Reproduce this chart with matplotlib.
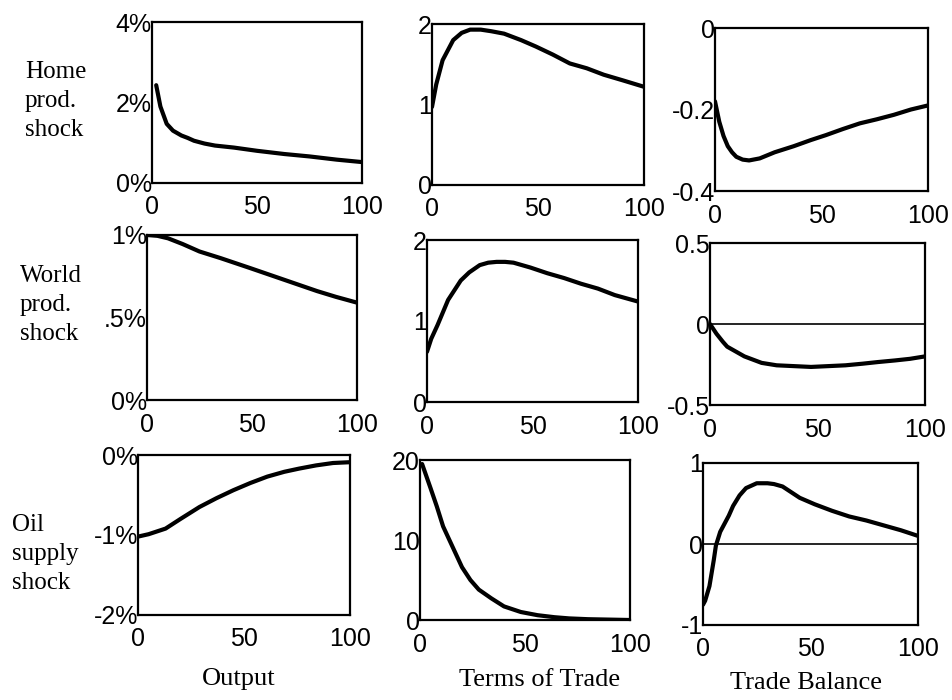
import matplotlib
matplotlib.use("Agg")
import matplotlib.pyplot as plt

# impulse responses, horizon 0..100
home_out_x = [2, 4, 7, 10, 14, 17, 20, 25, 30, 39, 50, 63, 75, 88, 100]
home_out_y = [2.43, 1.9, 1.47, 1.3, 1.18, 1.12, 1.05, 0.98, 0.93, 0.88, 0.8, 0.72, 0.66, 0.58, 0.52]

home_tot_x = [0, 2, 5, 10, 14, 18, 23, 28, 34, 42, 49, 57, 65, 73, 81, 90, 100]
home_tot_y = [0.97, 1.25, 1.55, 1.8, 1.89, 1.93, 1.93, 1.91, 1.88, 1.8, 1.72, 1.62, 1.51, 1.45, 1.37, 1.3, 1.22]

home_tb_x = [0, 2, 4, 6, 8, 10, 13, 16, 21, 28, 37, 45, 52, 60, 68, 76, 84, 92, 100]
home_tb_y = [-0.18, -0.23, -0.265, -0.29, -0.305, -0.316, -0.323, -0.325, -0.32, -0.305, -0.29, -0.275, -0.263, -0.248, -0.234, -0.224, -0.213, -0.2, -0.19]

world_out_x = [0, 5, 10, 17, 25, 35, 49, 57, 65, 73, 81, 90, 100]
world_out_y = [1.0, 0.995, 0.98, 0.945, 0.9, 0.86, 0.8, 0.765, 0.73, 0.695, 0.66, 0.625, 0.59]

world_tot_x = [0, 2, 5, 10, 16, 20, 25, 29, 33, 37, 41, 49, 57, 65, 73, 81, 89, 100]
world_tot_y = [0.62, 0.78, 0.95, 1.26, 1.5, 1.6, 1.69, 1.72, 1.73, 1.73, 1.72, 1.66, 1.59, 1.53, 1.46, 1.4, 1.32, 1.24]

world_tb_x = [0, 3, 6, 8, 12, 16, 20, 24, 31, 39, 47, 55, 63, 71, 78, 86, 93, 100]
world_tb_y = [0.0, -0.06, -0.11, -0.14, -0.17, -0.2, -0.22, -0.24, -0.255, -0.26, -0.265, -0.26, -0.255, -0.245, -0.235, -0.225, -0.215, -0.2]

oil_out_x = [0, 5, 13, 20, 29, 37, 45, 53, 61, 69, 76, 84, 92, 100]
oil_out_y = [-1.02, -0.99, -0.92, -0.8, -0.65, -0.54, -0.44, -0.35, -0.27, -0.21, -0.17, -0.13, -0.1, -0.09]

oil_tot_x = [1, 3, 5, 8, 11, 14, 17, 20, 24, 28, 34, 40, 48, 56, 64, 71, 80, 90, 100]
oil_tot_y = [19.5, 18.0, 16.5, 14.2, 11.7, 10.0, 8.3, 6.6, 5.0, 3.8, 2.7, 1.7, 1.0, 0.6, 0.35, 0.2, 0.1, 0.05, 0.0]

oil_tb_x = [0, 1, 3, 5, 6, 8, 10, 12, 14, 17, 20, 25, 30, 33, 37, 41, 45, 52, 60, 68, 76, 84, 92, 100]
oil_tb_y = [-0.75, -0.7, -0.52, -0.2, -0.02, 0.15, 0.25, 0.35, 0.47, 0.6, 0.69, 0.75, 0.75, 0.74, 0.71, 0.64, 0.57, 0.49, 0.41, 0.34, 0.29, 0.23, 0.17, 0.1]

row_labels = ["Home\nprod.\nshock", "World\nprod.\nshock", "Oil\nsupply\nshock"]
col_labels = ["Output", "Terms of Trade", "Trade Balance"]

panels = [
    [(home_out_x, home_out_y, (0, 4), [0, 2, 4], ["0%", "2%", "4%"]),
     (home_tot_x, home_tot_y, (0, 2), [0, 1, 2], ["0", "1", "2"]),
     (home_tb_x, home_tb_y, (-0.4, 0), [-0.4, -0.2, 0], ["-0.4", "-0.2", "0"])],
    [(world_out_x, world_out_y, (0, 1), [0, 0.5, 1], ["0%", ".5%", "1%"]),
     (world_tot_x, world_tot_y, (0, 2), [0, 1, 2], ["0", "1", "2"]),
     (world_tb_x, world_tb_y, (-0.5, 0.5), [-0.5, 0, 0.5], ["-0.5", "0", "0.5"])],
    [(oil_out_x, oil_out_y, (-2, 0), [-2, -1, 0], ["-2%", "-1%", "0%"]),
     (oil_tot_x, oil_tot_y, (0, 20), [0, 10, 20], ["0", "10", "20"]),
     (oil_tb_x, oil_tb_y, (-1, 1), [-1, 0, 1], ["-1", "0", "1"])],
]

# axes boxes in pixels (left, top, right, bottom), scan is a bit skewed
boxes = [
    [(152, 22, 362, 183), (432, 24, 644, 185), (715, 28, 928, 191)],
    [(147, 235, 357, 400), (427, 240, 638, 402), (710, 243, 925, 405)],
    [(138, 455, 350, 615), (420, 460, 630, 620), (703, 463, 918, 625)],
]

W, H = 953, 700
fig = plt.figure(figsize=(W / 100, H / 100), dpi=100)
tickfont = {"family": "Liberation Sans", "size": 18}
serif = "Liberation Serif"

for r in range(3):
    for c in range(3):
        x, y, ylim, yt, ytl = panels[r][c]
        l, t, rr, b = boxes[r][c]
        ax = fig.add_axes([l / W, 1 - b / H, (rr - l) / W, (b - t) / H])
        ax.plot(x, y, color="black", lw=3.0, solid_capstyle="round")
        if c == 2 and ylim[0] < 0 < ylim[1]:
            ax.plot([0, 100], [0, 0], color="black", lw=1.2)
        ax.set_xlim(0, 100)
        ax.set_ylim(*ylim)
        ax.set_xticks([0, 50, 100])
        ax.set_xticklabels(["0", "50", "100"], fontdict=tickfont)
        ax.set_yticks(yt)
        ax.set_yticklabels(ytl, fontdict=tickfont)
        ax.tick_params(axis="x", length=0, pad=9)
        ax.tick_params(axis="y", length=0, pad=0)
        for s in ax.spines.values():
            s.set_linewidth(1.6)

# row labels
row_y = [101, 305, 554]
row_x = [25, 20, 12]
for lab, yy, xx in zip(row_labels, row_y, row_x):
    fig.text(xx / W, 1 - yy / H, lab, family=serif, fontsize=18,
             ha="left", va="center", linespacing=1.4)

# column labels
col_x = [239, 540, 806]
col_y = [679, 680, 683]
for lab, xx, yy in zip(col_labels, col_x, col_y):
    fig.text(xx / W, 1 - yy / H, lab, family=serif, fontsize=19,
             ha="center", va="center")

fig.savefig("out.png", dpi=100)
